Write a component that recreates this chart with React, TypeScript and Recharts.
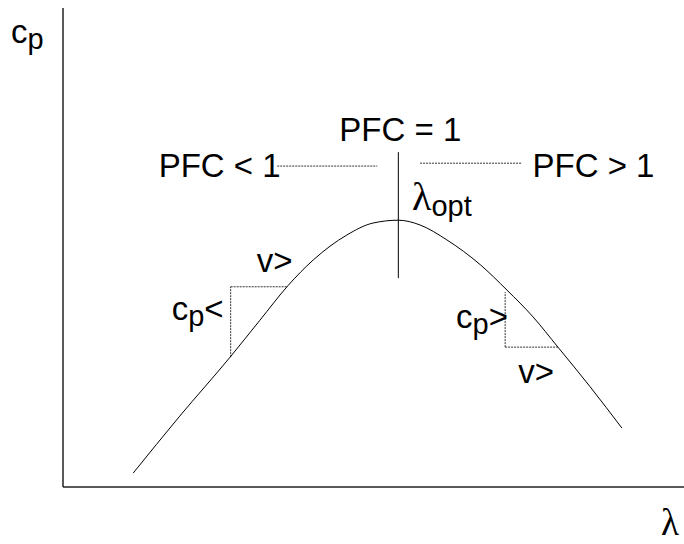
import React from "react";
import {
  LineChart,
  Line,
  XAxis,
  YAxis,
  ReferenceLine,
  ReferenceDot,
} from "recharts";

// cp(lambda) curve, arbitrary units (0..100 on both axes)
const lambdaValues = [11.3, 18.8, 26.9, 31.7, 36.2, 40.3, 45.7, 49.9, 54.0, 57.5, 61.8, 67.2, 71.5, 75.7, 79.7, 84.9, 90.0];
const cpValues = [2.9, 14.8, 27.1, 34.8, 42.0, 47.4, 52.6, 55.1, 55.7, 54.7, 51.6, 46.4, 41.1, 35.5, 29.2, 20.9, 12.3];

const data = lambdaValues.map((l, i) => ({ lambda: l, cp: cpValues[i] }));

// lambda_opt marker (vertical line through the peak)
const lambdaOpt = 54.0;
const optMarkerCp = [43.6, 69.9];

// dotted PFC guide lines: [lambda start, lambda end, cp]
const pfcLow = [34.5, 50.6, 67.0];
const pfcHigh = [57.5, 73.9, 67.6];

// dotted slope triangles: [lambda left, lambda right, cp low, cp high]
const triLeft = [27.0, 36.2, 27.1, 41.8];
const triRight = [71.2, 79.7, 29.2, 40.7];

// annotation texts and their anchor points (lambda, cp)
type Part = { t: string; sub?: boolean; serif?: boolean; size?: number };
const notes: { at: [number, number]; parts: Part[] }[] = [
  { at: [15.4, 64.7], parts: [{ t: "PFC < 1" }] },
  { at: [44.5, 72.2], parts: [{ t: "PFC = 1" }] },
  { at: [75.6, 64.7], parts: [{ t: "PFC > 1" }] },
  { at: [56.2, 57.8], parts: [{ t: "\u03bb", serif: true }, { t: "opt", sub: true }] },
  { at: [17.5, 34.9], parts: [{ t: "c" }, { t: "p", sub: true }, { t: "<" }] },
  { at: [31.2, 44.9], parts: [{ t: "v>" }] },
  { at: [63.3, 33.2], parts: [{ t: "c" }, { t: "p", sub: true }, { t: ">" }] },
  { at: [73.3, 21.7], parts: [{ t: "v>" }] },
];

const yTitle: Part[] = [{ t: "c" }, { t: "p", sub: true }];
const xTitle: Part[] = [{ t: "\u03bb", serif: true, size: 37 }];

const SANS = "'Liberation Sans', Arial, sans-serif";
const SERIF = "'Liberation Serif', 'Times New Roman', serif";

const richText = (parts: Part[], offX = 0, offY = 0) => (props: any) => {
  const vb = props.viewBox || {};
  let shift = 0;
  return (
    <text x={(vb.x ?? 0) + offX} y={(vb.y ?? 0) + offY} fontFamily={SANS} fontSize={33} fill="#000">
      {parts.map((p, i) => {
        const target = p.sub ? 6 : 0;
        const dy = target - shift;
        shift = target;
        return (
          <tspan
            key={i}
            dy={dy}
            fontSize={p.size ?? (p.sub ? 29 : p.serif ? 40 : 33)}
            fontFamily={p.serif ? SERIF : SANS}
          >
            {p.t}
          </tspan>
        );
      })}
    </text>
  );
};

const dotted = { stroke: "#333", strokeWidth: 1, strokeDasharray: "2 1" };

const App = () => {
  return (
    <div style={{ position: "absolute", left: 0, top: 0 }}>
      <LineChart width={684} height={544} data={data} margin={{ top: 8, right: 0, bottom: 0, left: 0 }}>
        <XAxis
          dataKey="lambda"
          type="number"
          domain={[0, 100]}
          height={57}
          tick={false}
          tickLine={false}
          axisLine={{ stroke: "#222", strokeWidth: 1.5 }}
          label={richText(xTitle, 598, 48)}
        />
        <YAxis
          type="number"
          domain={[0, 100]}
          width={63}
          tick={false}
          tickLine={false}
          axisLine={{ stroke: "#222", strokeWidth: 1.5 }}
          label={richText(yTitle, 11, 35)}
        />

        <ReferenceLine
          segment={[{ x: lambdaOpt, y: optMarkerCp[0] }, { x: lambdaOpt, y: optMarkerCp[1] }]}
          stroke="#000"
          strokeWidth={1}
        />
        <ReferenceLine segment={[{ x: pfcLow[0], y: pfcLow[2] }, { x: pfcLow[1], y: pfcLow[2] }]} {...dotted} />
        <ReferenceLine segment={[{ x: pfcHigh[0], y: pfcHigh[2] }, { x: pfcHigh[1], y: pfcHigh[2] }]} {...dotted} />

        <ReferenceLine segment={[{ x: triLeft[0], y: triLeft[2] }, { x: triLeft[0], y: triLeft[3] }]} {...dotted} />
        <ReferenceLine segment={[{ x: triLeft[0], y: triLeft[3] }, { x: triLeft[1], y: triLeft[3] }]} {...dotted} />
        <ReferenceLine segment={[{ x: triRight[0], y: triRight[2] }, { x: triRight[0], y: triRight[3] }]} {...dotted} />
        <ReferenceLine segment={[{ x: triRight[0], y: triRight[2] }, { x: triRight[1], y: triRight[2] }]} {...dotted} />

        <Line
          type="monotone"
          dataKey="cp"
          stroke="#000"
          strokeWidth={1}
          dot={false}
          isAnimationActive={false}
        />

        {notes.map((n, i) => (
          <ReferenceDot
            key={i}
            x={n.at[0]}
            y={n.at[1]}
            r={0}
            fill="none"
            stroke="none"
            label={richText(n.parts)}
          />
        ))}
      </LineChart>
    </div>
  );
};

export default App;
